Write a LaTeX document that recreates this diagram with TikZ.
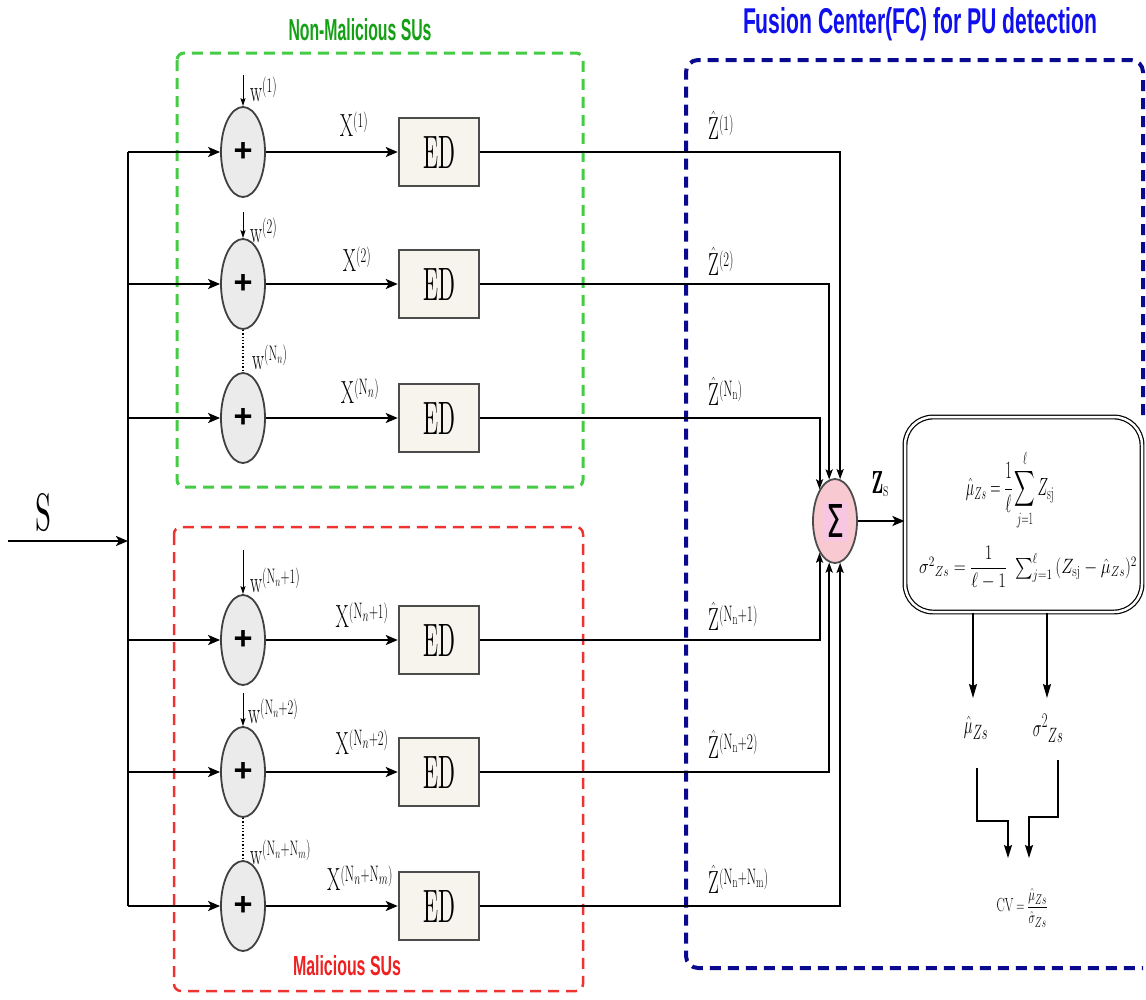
\documentclass[tikz,border=0pt]{standalone}
\usepackage{amsmath}
\usepackage{fontspec}
\setsansfont{Liberation Sans}
\newfontfamily\djs{DejaVu Sans}
\usepackage{graphicx}
\usetikzlibrary{arrows.meta,shapes.geometric}
\definecolor{cream}{HTML}{F6F4EC}
\definecolor{addfill}{HTML}{EBEBEB}
\definecolor{pinkfill}{HTML}{F9C9D1}
\definecolor{pinkin}{HTML}{F7C6E2}
\definecolor{gtxt}{HTML}{13A013}
\definecolor{gbox}{HTML}{44CC44}
\definecolor{rtxt}{HTML}{EE2020}
\definecolor{rbox}{HTML}{EE3333}
\definecolor{btxt}{HTML}{1010EE}
\definecolor{bbox}{HTML}{0A0A90}
\newcommand{\nz}[1]{\scalebox{0.6}[1]{#1}}
\newcommand{\lf}{\fontsize{32}{34}\selectfont}
\newcommand{\wf}{\fontsize{30}{32}\selectfont}
\begin{document}
\begin{tikzpicture}[x=1pt,y=-1pt,
  adder/.style={ellipse,draw=black!75,line width=1.8pt,fill=addfill,minimum width=44pt,minimum height=90pt,inner sep=0pt},
  edbox/.style={rectangle,draw=black!70,line width=2.5pt,fill=cream,minimum width=80pt,minimum height=68pt,inner sep=0pt},
  sumnode/.style={ellipse,draw=black!70,line width=1.8pt,fill=pinkfill,minimum width=44pt,minimum height=84pt,inner sep=0pt},
  fcbox/.style={rectangle,draw,double,double distance=2.5pt,line width=1.2pt,rounded corners=28pt,fill=white,minimum width=237pt,minimum height=195pt},
  wire/.style={line width=2.2pt,-{Stealth[length=12pt,width=10pt,inset=3pt]}},
  zwire/.style={line width=2pt,-{Stealth[length=10pt,width=7pt,inset=2pt]}},
  warrow/.style={line width=1pt,-{Stealth[length=8pt,width=5pt,inset=1.5pt]}},
  dwire/.style={line width=1.8pt,-{Stealth[length=14pt,width=8pt,inset=2pt]}},
  cvwire/.style={line width=1.4pt,-{Stealth[length=13pt,width=8pt,inset=2pt]}},
  lab/.style={inner sep=0pt,font=\lf},
  wlab/.style={inner sep=0pt,font=\wf,anchor=west},
  grpbox/.style={dash pattern=on 11pt off 7pt,rounded corners=7pt}]
\useasboundingbox (0,0) rectangle (1146,999);

% group boxes
\draw[grpbox,draw=gbox,line width=3pt] (177,53) rectangle (583,487);
\draw[grpbox,draw=rbox,line width=2.5pt] (174,527) rectangle (583,991);
\draw[grpbox,draw=bbox,line width=4pt,rounded corners=12pt] (1143,415) -- (1143,60) -- (686,60) -- (686,968) -- (1143,968);

% titles
\node[anchor=base,text=gtxt,inner sep=0pt] (tnon) at (360,40) {\resizebox{143pt}{22pt}{\sffamily\bfseries Non-Malicious SUs}};
\node[anchor=base,text=rtxt,inner sep=0pt] (tmal) at (347,975) {\resizebox{108pt}{20pt}{\sffamily\bfseries Malicious SUs}};
\node[anchor=base,text=btxt,inner sep=0pt] (tfc) at (920,33) {\resizebox{354pt}{26pt}{\sffamily\bfseries Fusion Center(FC) for PU detection}};

% branches
\foreach \i/\y in {1/152,2/284,3/418,4/640,5/772,6/906}{
  \node[adder] (a\i) at (243,\y) {\resizebox{19pt}{19pt}{\sffamily\bfseries +}};
  \node[edbox] (e\i) at (439,\y) {\resizebox{32pt}{32pt}{ED}};
  \coordinate (b\i) at (128,\y);
}
\node[sumnode] (sig) at (835,521) {\colorbox{pinkin}{\resizebox{18pt}{33pt}{\djs Σ}}};
\node[fcbox] (fbox) at (1023.5,514.5) {};

% input
\node[anchor=base,inner sep=0pt] (slab) at (44,530) {\resizebox{16pt}{37pt}{S}};
\coordinate (sin) at (8,541);
\coordinate (sbus) at (128,541);
\draw[wire] (sin) -- (sbus);
\draw[line width=1.6pt] (b1) -- (b6);

\foreach \i in {1,...,6}{
  \draw[wire] (b\i) -- (a\i);
  \draw[wire] (a\i) -- (e\i);
}

% noise inputs
\coordinate (w1) at (243,75);
\coordinate (w2) at (243,212);
\coordinate (w4) at (243,550);
\coordinate (w5) at (243,693);
\draw[warrow] (w1) -- (a1.north);
\draw[warrow] (w2) -- (a2.north);
\draw[warrow] (w4) -- (a4.north);
\draw[warrow] (w5) -- (a5.north);
\draw[line width=1.3pt,dotted] (a2.south) -- (a3.north);
\draw[line width=1.3pt,dotted] (a5.south) -- (a6.north);

% w labels
\node[wlab] (lw1) at (250,89) {\nz{$\mathrm{w}^{(1)}$}};
\node[wlab] (lw2) at (250,230) {\nz{$\mathrm{w}^{(2)}$}};
\node[wlab] (lw3) at (252,357) {\nz{$\mathrm{w}^{(\mathrm{N}_n)}$}};
\node[wlab] (lw4) at (250,580) {\nz{$\mathrm{w}^{(\mathrm{N}_n+1)}$}};
\node[wlab] (lw5) at (248,711) {\nz{$\mathrm{w}^{(\mathrm{N}_n+2)}$}};
\node[wlab] (lw6) at (250,852) {\nz{$\mathrm{w}^{(\mathrm{N}_n+\mathrm{N}_m)}$}};

% X labels
\node[lab] (lx1) at (354,124) {\nz{$\mathrm{X}^{(1)}$}};
\node[lab] (lx2) at (357,259) {\nz{$\mathrm{X}^{(2)}$}};
\node[lab] (lx3) at (360,391) {\nz{$\mathrm{X}^{(\mathrm{N}_n)}$}};
\node[lab] (lx4) at (362,615) {\nz{$\mathrm{X}^{(\mathrm{N}_n+1)}$}};
\node[lab] (lx5) at (362,742) {\nz{$\mathrm{X}^{(\mathrm{N}_n+2)}$}};
\node[lab] (lx6) at (360,878) {\nz{$\mathrm{X}^{(\mathrm{N}_n+\mathrm{N}_m)}$}};

% Z hat labels
\node[lab,anchor=west] (lz1) at (708,125) {\nz{$\hat{\mathrm{Z}}^{(1)}$}};
\node[lab,anchor=west] (lz2) at (708,261) {\nz{$\hat{\mathrm{Z}}^{(2)}$}};
\node[lab,anchor=west] (lz3) at (708,391) {\nz{$\hat{\mathrm{Z}}^{(\mathrm{N_n})}$}};
\node[lab,anchor=west] (lz4) at (708,616) {\nz{$\hat{\mathrm{Z}}^{(\mathrm{N_n+1})}$}};
\node[lab,anchor=west] (lz5) at (708,744) {\nz{$\hat{\mathrm{Z}}^{(\mathrm{N_n+2})}$}};
\node[lab,anchor=west] (lz6) at (708,879) {\nz{$\hat{\mathrm{Z}}^{(\mathrm{N_n+N_m})}$}};

% to the fusion sum
\draw[zwire] (e1.east) -| (sig.83);
\draw[zwire] (e2.east) -| (sig.98);
\draw[zwire] (e3.east) -| (sig.116);
\draw[zwire] (e4.east) -| (sig.-116);
\draw[zwire] (e5.east) -| (sig.-98);
\draw[zwire] (e6.east) -| (sig.-83);

\node[lab] (lzs) at (880,484) {\nz{$\mathbf{Z}_{\mathrm{s}}$}};
\draw[wire] (sig) -- (sig -| fbox.west);

% formulas
\node[inner sep=0pt] (f1) at (1010,490) {\scalebox{0.57}[1]{\fontsize{26}{26}\selectfont $\displaystyle \hat{\mu}_{Zs} = \frac{1}{\ell}\sum_{j=1}^{\ell} Z_{\mathrm{sj}}$}};
\node[inner sep=0pt] (f2) at (1028,568) {\scalebox{0.8}[1]{\fontsize{22}{22}\selectfont $\sigma^2{}_{Zs} = \dfrac{1}{\ell-1}\ \sum_{j=1}^{\ell}\,(Z_{\mathrm{sj}} - \hat{\mu}_{Zs})^2$}};

% outputs
\coordinate (d1) at (973,698);
\coordinate (d2) at (1047,698);
\draw[dwire] (fbox.south -| d1) -- (d1);
\draw[dwire] (fbox.south -| d2) -- (d2);
\node[lab] (lmu) at (976,728) {\nz{$\hat{\mu}_{Zs}$}};
\node[lab] (lsg) at (1048,728) {\nz{$\sigma^2{}_{Zs}$}};

\coordinate (c1a) at (977,768);
\coordinate (j1) at (1008,821);
\coordinate (c1b) at (1008,858);
\coordinate (c2a) at (1058,760);
\coordinate (j2) at (1029,817);
\coordinate (c2b) at (1029,858);
\draw[cvwire] (c1a) |- (j1) -- (c1b);
\draw[cvwire] (c2a) |- (j2) -- (c2b);

\node[inner sep=0pt] (cv) at (1022,908) {\scalebox{0.65}[1]{\fontsize{19}{19}\selectfont $\mathrm{CV} = \dfrac{\hat{\mu}_{Zs}}{\hat{\sigma}_{Zs}}$}};
\end{tikzpicture}
\end{document}
